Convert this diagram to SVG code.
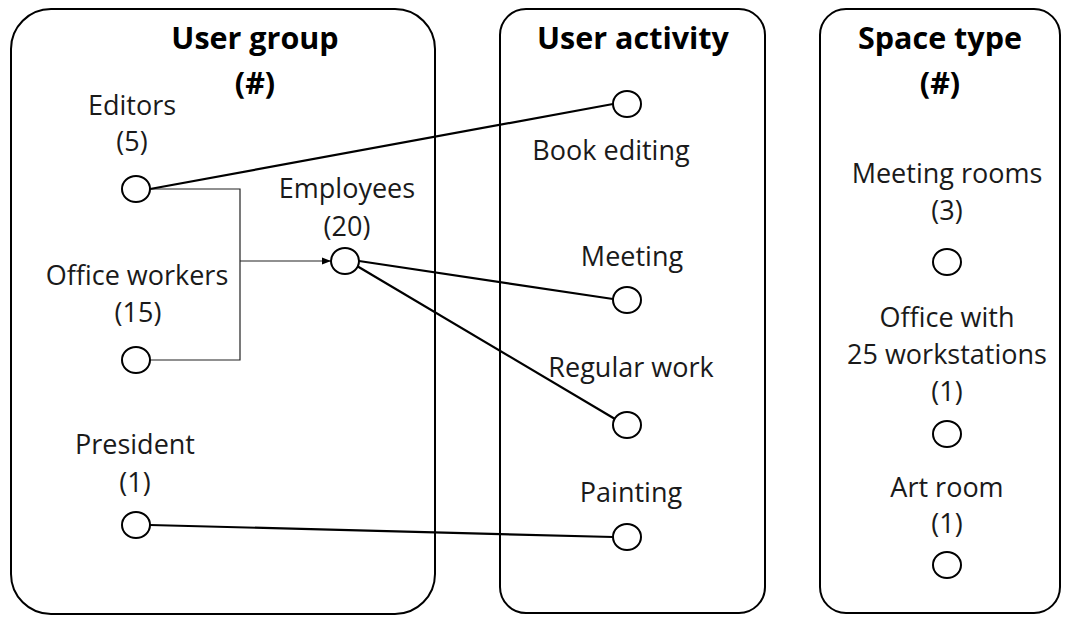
<svg xmlns="http://www.w3.org/2000/svg" width="1068" height="617" viewBox="0 0 1068 617">
  <style>
    .panel { fill: #fff; stroke: #000; stroke-width: 2; }
    .title { font-family: "Open Sans", "Liberation Sans", Arial, sans-serif; font-weight: bold; font-size: 30.5px; text-anchor: middle; fill: #000; }
    .lbl { font-family: "Open Sans", "Liberation Sans", Arial, sans-serif; font-size: 27px; text-anchor: middle; fill: #1a1a1a; }
    .port { fill: #fff; stroke: #000; stroke-width: 2; }
    .link { fill: none; stroke: #000; stroke-width: 2.2; }
    .thin { fill: none; stroke: #222; stroke-width: 1.2; }
  </style>
  <defs>
    <marker id="arrow" viewBox="0 0 10 10" refX="10" refY="5" markerWidth="9" markerHeight="9" markerUnits="userSpaceOnUse" orient="auto">
      <path d="M0,1 L10,5 L0,9 Z" fill="#000"/>
    </marker>
  </defs>

  <!-- panels -->
  <g id="panel-user-group">
    <rect class="panel" x="11" y="9" width="424" height="605" rx="40" ry="40"/>
    <text class="title" x="255" y="49">User group</text>
    <text class="title" x="255" y="94">(#)</text>
  </g>
  <g id="panel-user-activity">
    <rect class="panel" x="500" y="9" width="265" height="604" rx="26" ry="26"/>
    <text class="title" x="633" y="49">User activity</text>
  </g>
  <g id="panel-space-type">
    <rect class="panel" x="820" y="9" width="240" height="604" rx="26" ry="26"/>
    <text class="title" x="940" y="49">Space type</text>
    <text class="title" x="940" y="94">(#)</text>
  </g>

  <!-- connectors -->
  <g id="connectors">
    <polyline class="thin" points="150,189 240,189 240,360 150,360"/>
    <line class="thin" x1="240" y1="261" x2="331" y2="261" marker-end="url(#arrow)"/>
    <line class="link" x1="150" y1="189" x2="613" y2="104"/>
    <line class="link" x1="359" y1="261" x2="613" y2="299"/>
    <line class="link" x1="357" y1="266" x2="615" y2="419"/>
    <line class="link" x1="150" y1="525" x2="613" y2="537"/>
  </g>

  <!-- user groups -->
  <g id="node-editors">
    <text class="lbl" x="132" y="115">Editors</text>
    <text class="lbl" x="132" y="151">(5)</text>
    <ellipse class="port" cx="136" cy="189" rx="14" ry="13"/>
  </g>
  <g id="node-office-workers">
    <text class="lbl" x="137" y="285">Office workers</text>
    <text class="lbl" x="138" y="322">(15)</text>
    <ellipse class="port" cx="136" cy="360" rx="14" ry="13"/>
  </g>
  <g id="node-president">
    <text class="lbl" x="135" y="454">President</text>
    <text class="lbl" x="135" y="492">(1)</text>
    <ellipse class="port" cx="136" cy="525" rx="14" ry="13"/>
  </g>
  <g id="node-employees">
    <text class="lbl" x="347" y="198">Employees</text>
    <text class="lbl" x="347" y="236">(20)</text>
    <ellipse class="port" cx="345" cy="261" rx="14" ry="13"/>
  </g>

  <!-- user activities -->
  <g id="node-book-editing">
    <ellipse class="port" cx="627" cy="104" rx="14" ry="13"/>
    <text class="lbl" x="611" y="160">Book editing</text>
  </g>
  <g id="node-meeting">
    <text class="lbl" x="632" y="266">Meeting</text>
    <ellipse class="port" cx="627" cy="300" rx="14" ry="13"/>
  </g>
  <g id="node-regular-work">
    <text class="lbl" x="631" y="377">Regular work</text>
    <ellipse class="port" cx="627" cy="425" rx="14" ry="13"/>
  </g>
  <g id="node-painting">
    <text class="lbl" x="631" y="502">Painting</text>
    <ellipse class="port" cx="627" cy="537" rx="14" ry="13"/>
  </g>

  <!-- space types -->
  <g id="node-meeting-rooms">
    <text class="lbl" x="947" y="183">Meeting rooms</text>
    <text class="lbl" x="947" y="220">(3)</text>
    <ellipse class="port" cx="947" cy="262" rx="14" ry="13"/>
  </g>
  <g id="node-office">
    <text class="lbl" x="947" y="327">Office with</text>
    <text class="lbl" x="947" y="364">25 workstations</text>
    <text class="lbl" x="947" y="401">(1)</text>
    <ellipse class="port" cx="947" cy="434" rx="14" ry="13"/>
  </g>
  <g id="node-art-room">
    <text class="lbl" x="947" y="497">Art room</text>
    <text class="lbl" x="947" y="533">(1)</text>
    <ellipse class="port" cx="947" cy="565" rx="14" ry="13"/>
  </g>
</svg>
